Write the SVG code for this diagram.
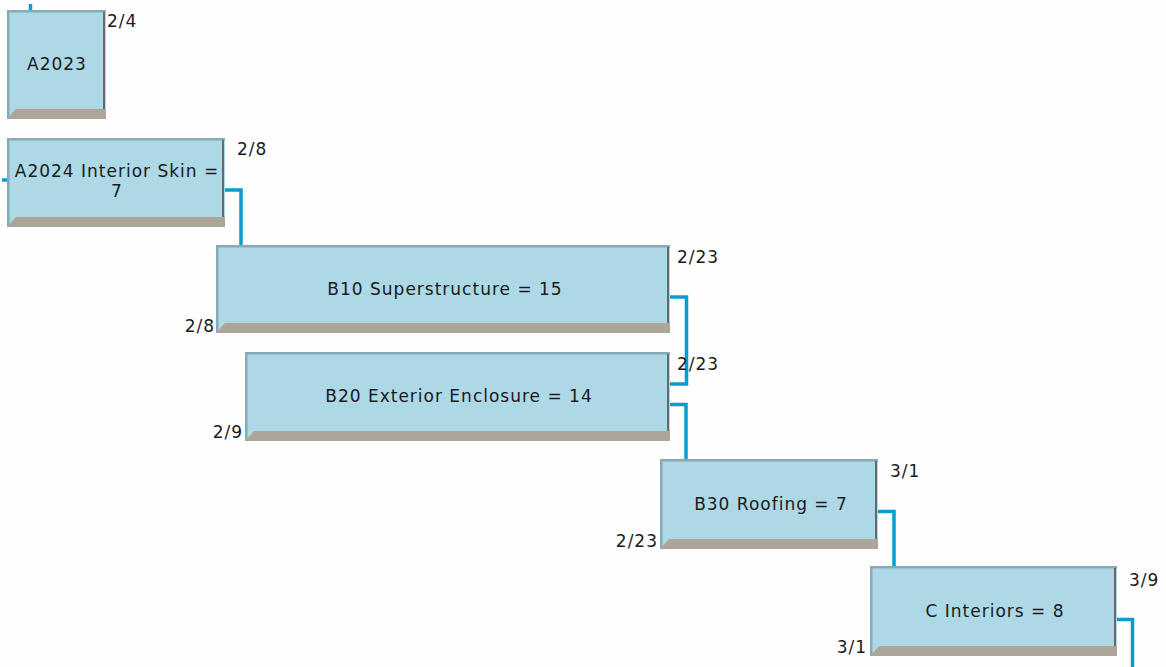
<svg xmlns="http://www.w3.org/2000/svg" width="1166" height="667" viewBox="0 0 1166 667">
  <style>
    .face { fill: #add8e6; }
    .edge { fill: #88a9b7; }
    .shade { fill: #65696c; }
    .base { fill: #aba697; }
    .name { font-family: "DejaVu Sans", Verdana, sans-serif; font-size: 17px; letter-spacing: 1px; fill: #1a1a1a; text-anchor: middle; }
    .date { font-family: "DejaVu Sans", Verdana, sans-serif; font-size: 17px; letter-spacing: 1px; fill: #1a1a1a; }
    .date.end { text-anchor: end; }
    .link { fill: none; stroke: #0a9cd0; stroke-width: 3.5; stroke-linejoin: miter; }
  </style>
  <rect x="0" y="0" width="1166" height="667" fill="#fefefe"/>

  <!-- dependency links -->
  <g id="connectors">
    <path class="link" d="M30.5,4 V10"/>
    <path class="link" d="M2,180 H8" stroke-width="2"/>
    <path class="link" d="M225,190 H241 V245"/>
    <path class="link" d="M670,297 H686.5 V384 H670"/>
    <path class="link" d="M670,404.5 H686 V459"/>
    <path class="link" d="M878,511.5 H894 V566"/>
    <path class="link" d="M1117,619.5 H1132.5 V667"/>
  </g>

  <g id="A2023">
    <rect class="face" x="7" y="10" width="99" height="109"/>
    <rect class="edge" x="7" y="10" width="99" height="2.5"/>
    <rect class="edge" x="7" y="10" width="2.5" height="109"/>
    <rect class="shade" x="103" y="12" width="2" height="97"/>
    <polygon class="base" points="7,119 16,109 106,109 106,119"/>
    <text class="name" x="57" y="70">A2023</text>
    <text class="date" x="107" y="27">2/4</text>
  </g>

  <g id="A2024">
    <rect class="face" x="7" y="138" width="218" height="89"/>
    <rect class="edge" x="7" y="138" width="218" height="2.5"/>
    <rect class="edge" x="7" y="138" width="2.5" height="89"/>
    <rect class="shade" x="222" y="140" width="2" height="77"/>
    <polygon class="base" points="7,227 16,217 225,217 225,227"/>
    <text class="name" x="117" y="177">A2024 Interior Skin =</text>
    <text class="name" x="117" y="197">7</text>
    <text class="date" x="237" y="155">2/8</text>
  </g>

  <g id="B10">
    <rect class="face" x="216" y="245" width="454" height="88"/>
    <rect class="edge" x="216" y="245" width="454" height="2.5"/>
    <rect class="edge" x="216" y="245" width="2.5" height="88"/>
    <rect class="shade" x="667" y="247" width="2" height="76"/>
    <polygon class="base" points="216,333 225,323 670,323 670,333"/>
    <text class="name" x="445" y="295">B10 Superstructure = 15</text>
    <text class="date" x="677" y="263">2/23</text>
    <text class="date end" x="215" y="332">2/8</text>
  </g>

  <g id="B20">
    <rect class="face" x="245" y="352" width="425" height="89"/>
    <rect class="edge" x="245" y="352" width="425" height="2.5"/>
    <rect class="edge" x="245" y="352" width="2.5" height="89"/>
    <rect class="shade" x="667" y="354" width="2" height="77"/>
    <polygon class="base" points="245,441 254,431 670,431 670,441"/>
    <text class="name" x="459" y="402">B20 Exterior Enclosure = 14</text>
    <text class="date" x="677" y="370">2/23</text>
    <text class="date end" x="243" y="438">2/9</text>
  </g>

  <g id="B30">
    <rect class="face" x="660" y="459" width="218" height="90"/>
    <rect class="edge" x="660" y="459" width="218" height="2.5"/>
    <rect class="edge" x="660" y="459" width="2.5" height="90"/>
    <rect class="shade" x="875" y="461" width="2" height="78"/>
    <polygon class="base" points="660,549 669,539 878,539 878,549"/>
    <text class="name" x="771" y="510">B30 Roofing = 7</text>
    <text class="date" x="890" y="477">3/1</text>
    <text class="date end" x="658" y="547">2/23</text>
  </g>

  <g id="C">
    <rect class="face" x="870" y="566" width="247" height="90"/>
    <rect class="edge" x="870" y="566" width="247" height="2.5"/>
    <rect class="edge" x="870" y="566" width="2.5" height="90"/>
    <rect class="shade" x="1114" y="568" width="2" height="78"/>
    <polygon class="base" points="870,656 879,646 1117,646 1117,656"/>
    <text class="name" x="995" y="617">C Interiors = 8</text>
    <text class="date" x="1129" y="586">3/9</text>
    <text class="date end" x="867" y="653">3/1</text>
  </g>
</svg>
